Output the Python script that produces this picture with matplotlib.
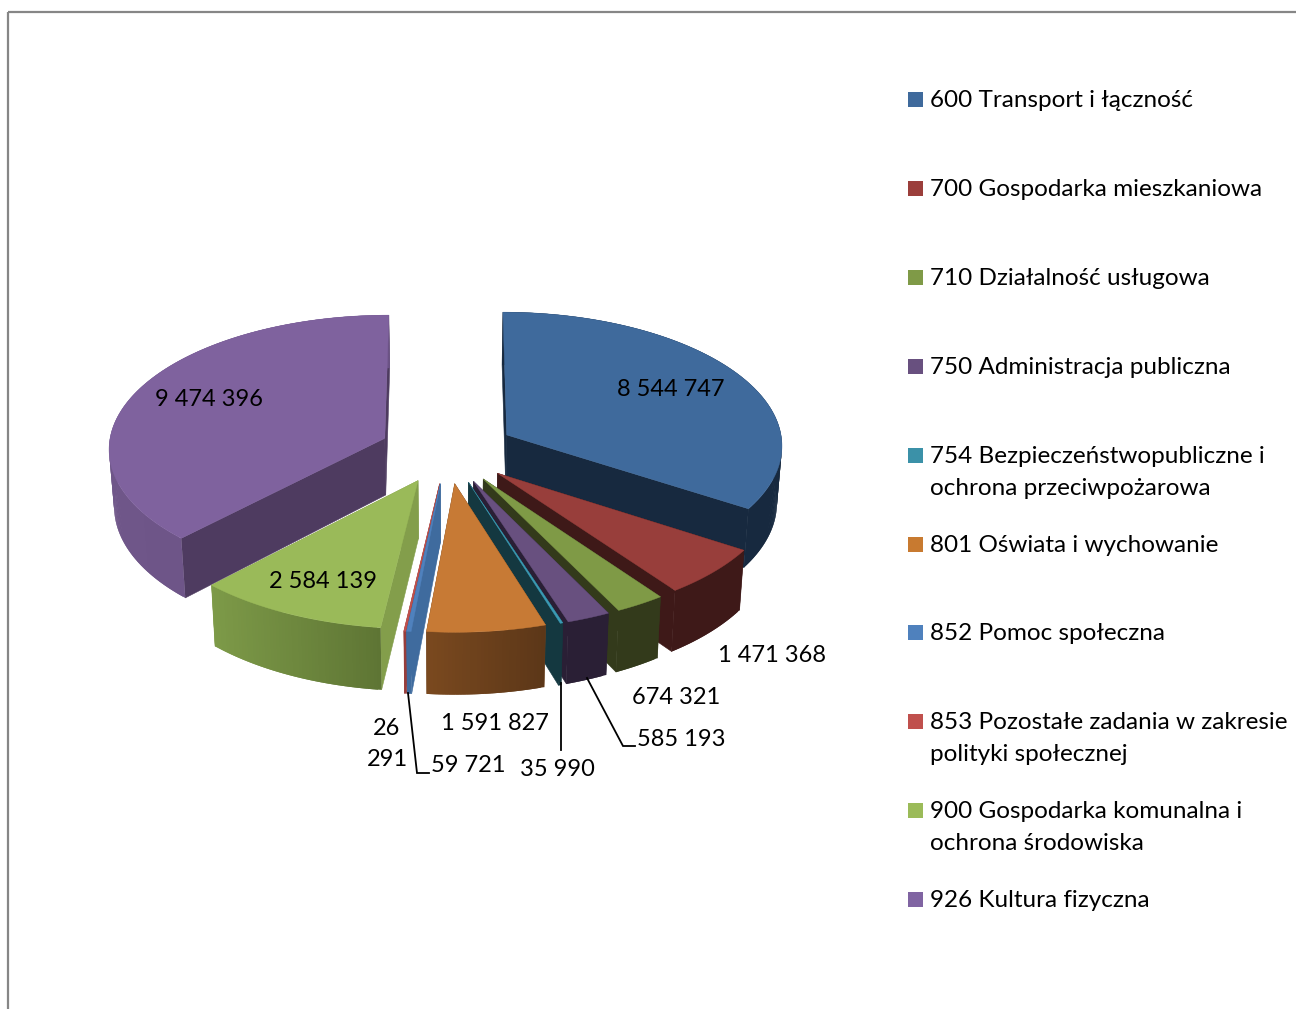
import numpy as np
import matplotlib
matplotlib.use('Agg')
import matplotlib.pyplot as plt
from matplotlib.patches import Polygon, Rectangle

plt.rcParams['font.family'] = ['Lato', 'DejaVu Sans']

names = ['600 Transport i łączność', '700 Gospodarka mieszkaniowa', '710 Działalność usługowa',
         '750 Administracja publiczna', '754 Bezpieczeństwopubliczne i\nochrona przeciwpożarowa',
         '801 Oświata i wychowanie', '852 Pomoc społeczna',
         '853 Pozostałe zadania w zakresie\npolityki społecznej',
         '900 Gospodarka komunalna i\nochrona środowiska', '926 Kultura fizyczna']
values = [8544747, 1471368, 674321, 585193, 35990, 1591827, 59721, 26291, 2584139, 9474396]

legend_colors = ['#3F6A9C', '#9B3E3B', '#7F9A47', '#68507F', '#3B91A8', '#C87A30', '#4F81BD', '#C0504D', '#9BBB59', '#8064A2']
top_colors = ['#3F6A9C', '#983E3B', '#7F9A46', '#68507F', '#3B9AB4', '#C77A35', '#4F81BD', '#C0504D', '#9ABA59', '#7F629E']
side_colors = ['#17293F', '#3E1918', '#333A1B', '#2A1F35', '#143840', '#6E421D', '#3F6B9E', '#983D3A', '#839E4B', '#4E3B60']
rim_left = ['#17293F', '#3E1918', '#333A1B', '#2A1F35', '#143840', '#7A491F', '#3F6B9E', '#983D3A', '#7D9A48', '#6F5689']
rim_right = ['#17293F', '#3E1918', '#333A1B', '#2A1F35', '#143840', '#5C3718', '#3F6B9E', '#983D3A', '#5E7534', '#6B5285']

# back to front
draw_order = [9, 0, 1, 2, 3, 4, 5, 8, 7, 6]

# pie geometry in pixels, perspective fitted by eye
cx, cy = 447.5, 450.5
R = 276.5
KR = 133.4
persp = 0.0695
explode = 0.246
depth = 57
shrink = 0.985


def project(u, v, low=False):
    s = 1 / (1 + persp * v)
    x = cx + R * u * s
    y = cy - KR * v * s
    if low:
        x = cx + (x - cx) * shrink
        y = y + depth * s
    return x, y


def to_rgb(c):
    return np.array(matplotlib.colors.to_rgb(c))


fig = plt.figure(figsize=(12.96, 10.09), dpi=100)
ax = fig.add_axes([0, 0, 1, 1])
ax.set_xlim(0, 1296)
ax.set_ylim(1009, 0)
ax.axis('off')

# frame
ax.plot([8, 8], [1009, 12], color='#868686', lw=1.6, solid_capstyle='butt')
ax.plot([8, 1296], [12, 12], color='#868686', lw=1.6, solid_capstyle='butt')

total = sum(values)
edges = np.concatenate([[0], np.cumsum(values)]) / total * 2 * np.pi

z = 1
for i in draw_order:
    a0, a1 = edges[i], edges[i + 1]
    mid = (a0 + a1) / 2
    ou, ov = explode * np.sin(mid), explode * np.cos(mid)
    t = np.linspace(a0, a1, max(3, int(np.degrees(a1 - a0) * 1.5)))
    u = ou + np.sin(t)
    v = ov + np.cos(t)
    tx, ty = project(u, v)
    bx, by = project(u, v, True)
    ax0, ay0 = project(ou, ov)
    bx0, by0 = project(ou, ov, True)

    # flat walls at both cut edges
    for k in (0, -1):
        pts = [(ax0, ay0), (tx[k], ty[k]), (bx[k], by[k]), (bx0, by0)]
        ax.add_patch(Polygon(pts, closed=True, fc=side_colors[i], ec=side_colors[i], lw=0.4, zorder=z))
    z += 1

    # outer rim, shaded in facets. each one overlaps the next so no seams show
    xmin, xmax = tx.min(), tx.max()
    c0, c1 = to_rgb(rim_left[i]), to_rgb(rim_right[i])
    for k in range(len(t) - 1):
        k2 = min(k + 2, len(t) - 1)
        f = ((tx[k] + tx[k + 1]) / 2 - xmin) / max(xmax - xmin, 1)
        col = c0 + (c1 - c0) * f
        pts = [(tx[k], ty[k]), (tx[k2], ty[k2]), (bx[k2], by[k2]), (bx[k], by[k])]
        ax.add_patch(Polygon(pts, closed=True, fc=col, ec='none', zorder=z))
        z += 0.001
    z = int(z) + 1

    top = [(ax0, ay0)] + list(zip(tx, ty))
    ax.add_patch(Polygon(top, closed=True, fc=top_colors[i], ec=top_colors[i], lw=0.3, zorder=z))
    z += 1

# leader lines
leaders = [
    ([408, 417, 429], [693, 773, 773]),
    ([561, 561], [683, 750]),
    ([587, 623, 635], [678, 746, 746]),
]
for lx, ly in leaders:
    ax.plot(lx, ly, color='black', lw=1.3, zorder=z, solid_joinstyle='miter')

labels = [f'{v:,}'.replace(',', ' ') for v in values]
label_pos = [(671, 390), (772, 656), (676, 698), (681, 740), (557, 770), (495, 724), (468, 766), (387, 744), (323, 582), (209, 400)]
for i, (lab, p) in enumerate(zip(labels, label_pos)):
    if values[i] == 26291:
        lab = lab.replace(' ', '\n')
    ax.text(p[0], p[1], lab, ha='center', va='center', fontsize=17, color='black', zorder=z + 1, linespacing=1.62)

# legend, drawn by hand because the rows are unevenly spaced
legend_y = [99, 188, 277, 366, 455, 544, 632, 721, 810, 899]
for name, col, y in zip(names, legend_colors, legend_y):
    ax.add_patch(Rectangle((908, y - 7), 15, 15, fc=col, ec='none', zorder=z))
    for j, line in enumerate(name.split('\n')):
        ax.text(930, y + 1.5 + j * 32, line, ha='left', va='center', fontsize=17.5, color='black', zorder=z + 1)

fig.savefig('out.png', dpi=100)
